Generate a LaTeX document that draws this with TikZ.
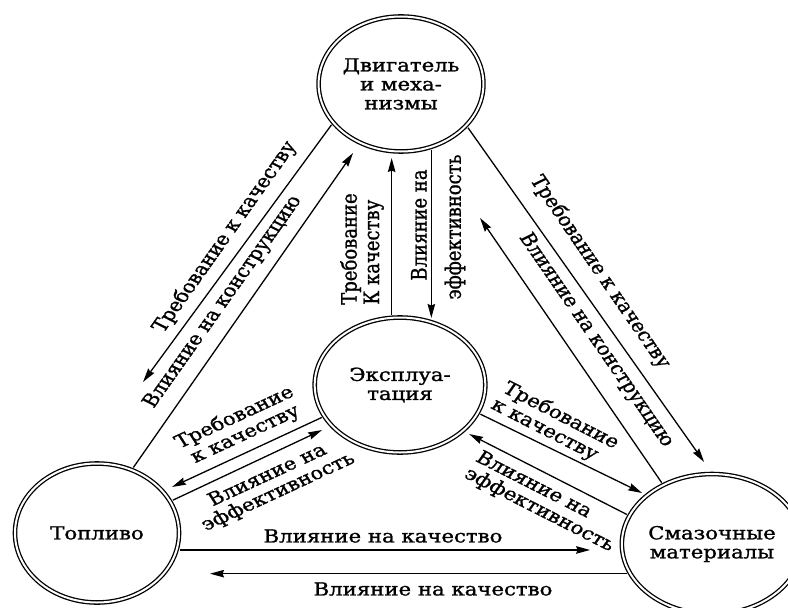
\documentclass[tikz,border=0pt]{standalone}
\usepackage{fontspec}
\setmainfont{DejaVu Serif}[FakeBold=1.2]
\usetikzlibrary{arrows.meta,shapes.geometric}
\begin{document}
\begin{tikzpicture}[x=0.847458pt, y=-1pt, xscale=1.18, transform shape,
  blob/.style={ellipse, draw, line width=1.3pt, double, double distance=2pt, inner sep=0pt, align=center, font=\fontsize{18}{19}\selectfont},
  conn/.style={line width=1.3pt, shorten <=2.3pt, -{Stealth[length=14pt,width=7.5pt,inset=1.5pt]}},
  lbl/.style={font=\fontsize{18}{19}\selectfont, inner sep=0pt, align=center}]
\useasboundingbox (0,0) rectangle (788,607);
% main nodes
\node[blob, minimum width=134.6pt, minimum height=135pt] (top) at (401,84) {Двигатель\\и меха-\\низмы};
\node[blob, minimum width=144.6pt, minimum height=135pt] (mid) at (400,385) {Эксплуа-\\тация};
\node[blob, minimum width=139pt, minimum height=139pt] (left) at (97,533) {Топливо};
\node[blob, minimum width=131pt, minimum height=140pt] (right) at (712,544) {Смазочные\\материалы};
% free ends
\coordinate (a1) at (143,382);
\coordinate (b1) at (353,153);
\coordinate (c2) at (391,158);
\coordinate (d2) at (435,318);
\coordinate (c3) at (704,462);
\coordinate (d3) at (480,218);
\coordinate (e4) at (172,487);
\coordinate (f4) at (322,430);
\coordinate (g5) at (642,493);
\coordinate (h5) at (469,434);
\coordinate (i6) at (590,550);
\coordinate (j6) at (210,572);
% connectors
\draw[conn] (top.214.1) -- (a1);
\draw[conn] (left.65.2) -- (b1);
\draw[conn] (mid.96.2) -- (mid.96.2 |- c2);
\draw[conn] (top.292.7) -- (top.292.7 |- d2);
\draw[conn] (top.323.6) -- (c3);
\draw[conn] (right.125.4) -- (d3);
\draw[conn] (mid.206.2) -- (e4);
\draw[conn] (left.27.1) -- (f4);
\draw[conn] (mid.337.6) -- (g5);
\draw[conn] (right.158.3) -- (h5);
\draw[conn] (left.346.6) -- (left.346.6 -| i6);
\draw[conn] (right.203.8) -- (right.203.8 -| j6);
% labels
\node[lbl, rotate=59] (l1a) at (225,237) {Требование к качеству};
\node[lbl, rotate=59] (l1b) at (223,302) {Влияние на конструкцию};
\node[lbl, rotate=90, align=left] (l2a) at (362,249) {Требование\\К качеству};
\node[lbl, rotate=90] (l2b) at (419,225) {Влияние на};
\node[lbl, rotate=90] (l2c) at (455,227) {эффективность};
\node[lbl, rotate=-59.7] (l3a) at (600,272) {Требование к качеству};
\node[lbl, rotate=-59.7] (l3b) at (596,340) {Влияние на конструкцию};
\node[lbl, rotate=28.6] (l4a) at (240,426) {Требование\\к качеству};
\node[lbl, rotate=28.6] (l4b) at (273,484) {Влияние на\\эффективность};
\node[lbl, rotate=-31, align=left] (l5a) at (555,424) {Требование\\к качеству};
\node[lbl, rotate=-31, align=left] (l5b) at (545,502) {Влияние на\\эффективность};
\node[lbl] (l6a) at (383,536) {Влияние на качество};
\node[lbl] (l6b) at (433,589) {Влияние на качество};
\end{tikzpicture}
\end{document}
